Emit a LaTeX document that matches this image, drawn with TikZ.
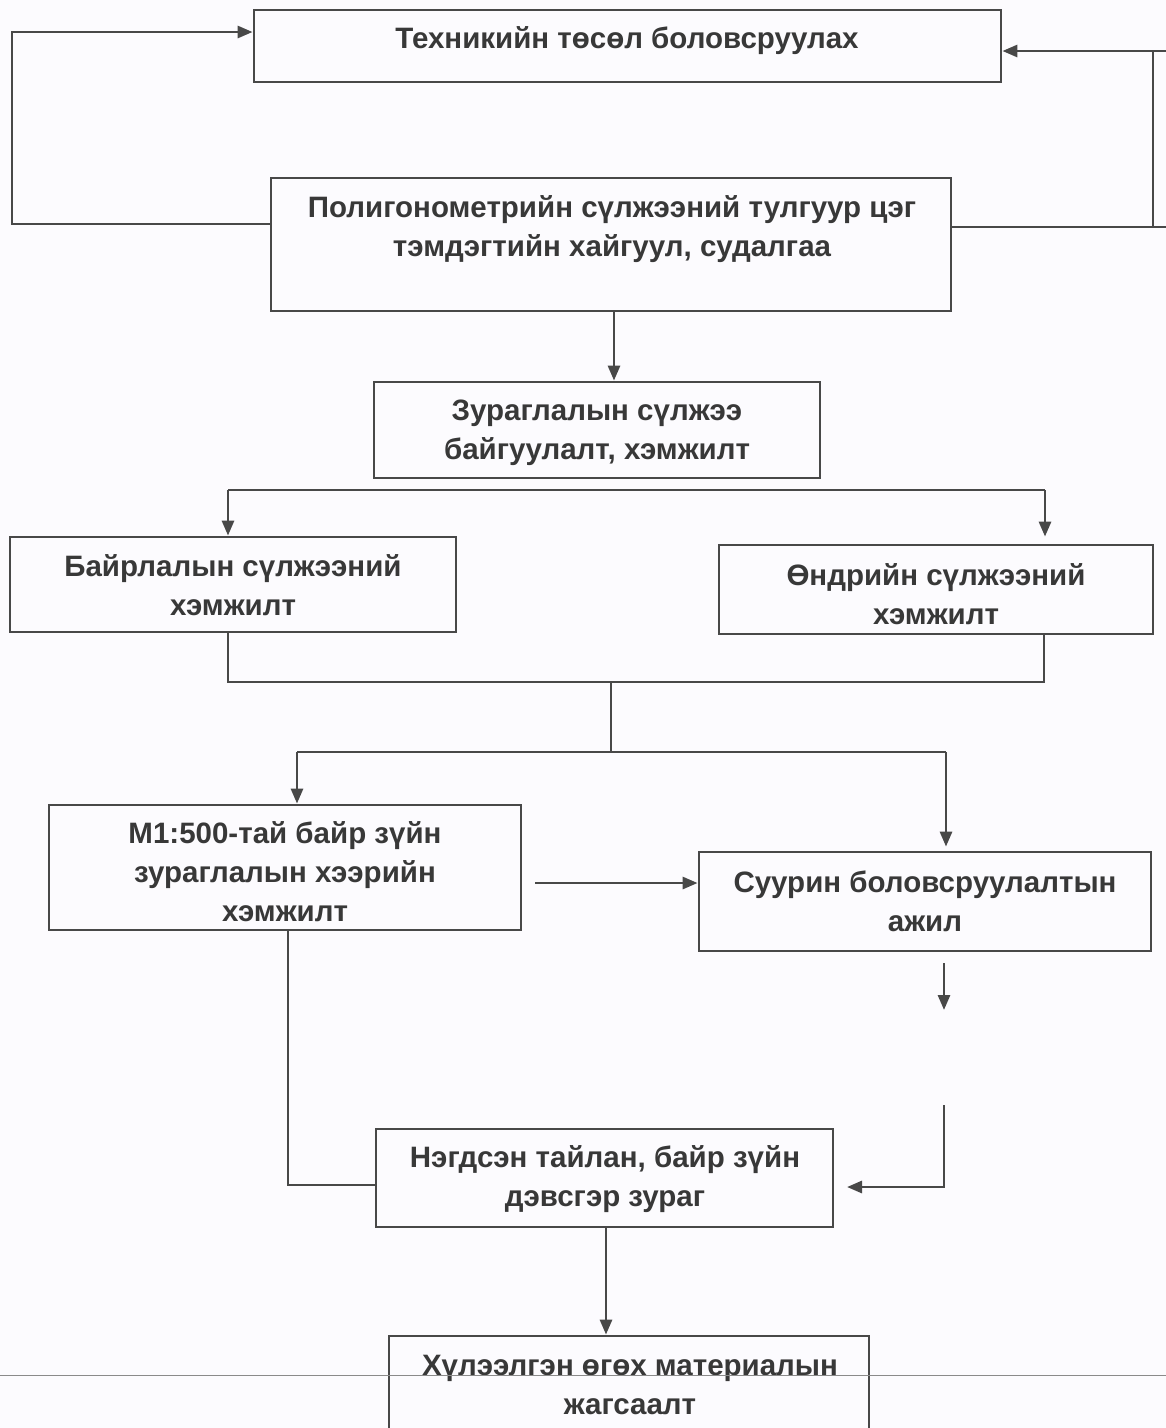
\documentclass[tikz,border=0pt]{standalone}
\usepackage{fontspec}
\setmainfont{Liberation Sans}
\usetikzlibrary{arrows.meta}
\definecolor{ink}{HTML}{484848}
\definecolor{txt}{HTML}{383838}
\definecolor{paper}{HTML}{FCFBFE}
\definecolor{scanline}{HTML}{8A8A8A}
\tikzset{
  box/.style={draw=ink, line width=2.8pt, rectangle, inner sep=0pt},
  lbl/.style={align=center, text=txt, inner sep=0pt, font=\bfseries\fontsize{29.5}{39}\selectfont},
  conn/.style={draw=ink, line width=2.8pt},
  arr/.style={conn, -{Triangle[length=15pt,width=12pt]}}
}
\begin{document}
\begin{tikzpicture}[x=1pt,y=-1pt]
\fill[paper] (0,0) rectangle (1166,1428);
\clip (0,0) rectangle (1166,1428);
% boxes
\node[box, minimum width=747pt, minimum height=72pt] (b1) at (627.5,46) {};
\node[box, minimum width=680pt, minimum height=133pt] (b2) at (611,244.5) {};
\node[box, minimum width=446pt, minimum height=96pt] (b3) at (597,430) {};
\node[box, minimum width=446pt, minimum height=95pt] (b4) at (233,584.5) {};
\node[box, minimum width=434pt, minimum height=89pt] (b5) at (936,589.5) {};
\node[box, minimum width=472pt, minimum height=125pt] (b6) at (285,867.5) {};
\node[box, minimum width=452pt, minimum height=99pt] (b7) at (925,901.5) {};
\node[box, minimum width=457pt, minimum height=98pt] (b8) at (604.5,1178) {};
\node[box, minimum width=480pt, minimum height=104pt] (b9) at (629,1388) {};
% labels
\node[lbl] (t1) at (627,41) {Техникийн төсөл боловсруулах};
\node[lbl] (t2) at (612,229.5) {Полигонометрийн сүлжээний тулгуур цэг\\тэмдэгтийн хайгуул, судалгаа};
\node[lbl] (t3) at (597,432.5) {Зураглалын сүлжээ\\байгуулалт, хэмжилт};
\node[lbl] (t4) at (233,585) {Байрлалын сүлжээний\\хэмжилт};
\node[lbl] (t5) at (936,594) {Өндрийн сүлжээний\\хэмжилт};
\node[lbl] (t6) at (285,871.5) {M1:500-тай байр зүйн\\зураглалын хээрийн\\хэмжилт};
\node[lbl] (t7) at (925,901) {Суурин боловсруулалтын\\ажил};
\node[lbl] (t8) at (605,1179.5) {Нэгдсэн тайлан, байр зүйн\\дэвсгэр зураг};
\node[lbl] (t9) at (630,1384.5) {Хүлээлгэн өгөх материалын\\жагсаалт};
% coordinates
\coordinate (L1) at (12,224);
\coordinate (L2) at (12,32);
\coordinate (R1) at (1153,227);
\coordinate (R2) at (1153,51);
\coordinate (E1) at (1166,227);
\coordinate (E2) at (1166,51);
\coordinate (C23) at (614,0);
\coordinate (H1) at (228,490);
\coordinate (H2) at (1045,490);
\coordinate (M1) at (228,682);
\coordinate (M2) at (1044,682);
\coordinate (M3) at (611,682);
\coordinate (M4) at (611,752);
\coordinate (S1) at (297,752);
\coordinate (S2) at (946,752);
\coordinate (A1) at (535,883);
\coordinate (B1) at (288,1185);
\coordinate (D1) at (944,963);
\coordinate (D2) at (944,1010);
\coordinate (D3) at (944,1105);
\coordinate (D4) at (944,1187);
\coordinate (D5) at (847,1187);
\coordinate (C89) at (606,0);
% connectors
\draw[arr] (b2.west |- L1) -- (L1) -- (L2) -- (b1.west |- L2);
\draw[conn] (b2.east |- R1) -- (E1);
\draw[conn] (R1) -- (R2);
\draw[arr] (E2) -- (b1.east |- E2);
\draw[arr] (b2.south -| C23) -- (b3.north -| C23);
\draw[arr] (H1) -- (b4.north -| H1);
\draw[conn] (H1) -- (H2);
\draw[arr, shorten >=7pt] (H2) -- (b5.north -| H2);
\draw[conn] (b4.south -| M1) -- (M1) -- (M2) -- (b5.south -| M2);
\draw[conn] (M3) -- (M4);
\draw[arr] (S1) -- (b6.north -| S1);
\draw[conn] (S1) -- (S2);
\draw[arr, shorten >=4pt] (S2) -- (b7.north -| S2);
\draw[arr] (A1) -- (b7.west |- A1);
\draw[conn] (b6.south -| B1) -- (B1) -- (b8.west |- B1);
\draw[arr] (D1) -- (D2);
\draw[arr] (D3) -- (D4) -- (D5);
\draw[arr] (b8.south -| C89) -- (b9.north -| C89);
% scan line
\draw[scanline, line width=1pt] (0,1375) -- (1166,1375);
\end{tikzpicture}
\end{document}
